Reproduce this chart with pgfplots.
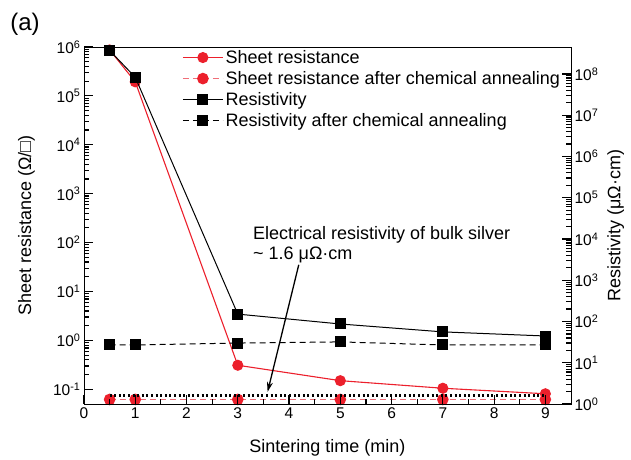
\documentclass[border=0pt]{standalone}
\usepackage{fontspec}
\setmainfont{Liberation Sans}
\setsansfont{Liberation Sans}
\usepackage{pgfplots}
\pgfplotsset{compat=1.18}
\usetikzlibrary{arrows.meta}
\definecolor{myred}{RGB}{236,32,44}
\definecolor{mypink}{RGB}{240,110,120}
\newcommand\lab{\fontsize{18}{21}\selectfont}
\newcommand\tk{\fontsize{15.5}{18}\selectfont}

\pgfplotstableread{
x y
0.5 8.7e5
1 1.94e5
3 0.31
5 0.15
7 0.105
9 0.081
}\sheet
\pgfplotstableread{
x y
0.5 0.062
1 0.062
3 0.062
5 0.062
7 0.062
9 0.062
}\sheetann
\pgfplotstableread{
x y
0.5 3.7e8
1 8.3e7
3 151
5 87
7 56
9 44.5
}\resist
\pgfplotstableread{
x y
0.5 27
1 27
3 30
5 32
7 27
9 27
}\resistann

\begin{document}
\begin{tikzpicture}[x=1pt,y=1pt]
\path[use as bounding box] (0,0) rectangle (631,459);
\node[font=\fontsize{24}{28}\selectfont] at (25,435) {(a)};
\begin{axis}[
  at={(84pt,55pt)}, anchor=south west,
  scale only axis, width=487pt, height=357pt,
  xmin=0, xmax=9.5,
  ymode=log, ymin=0.05, ymax=1e6,
  xtick={0,1,...,9}, minor x tick num=1,
  ytick={0.1,1,10,100,1000,1e4,1e5,1e6},
  yticklabels={10\textsuperscript{-1},10\textsuperscript{0},10\textsuperscript{1},10\textsuperscript{2},10\textsuperscript{3},10\textsuperscript{4},10\textsuperscript{5},10\textsuperscript{6}},
  xtick pos=lower, ytick pos=left,
  tick align=inside,
  major tick length=9pt, minor tick length=5pt,
  tick style={black, line width=1.2pt},
  axis on top,
  /pgf/number format/assume math mode=true,
  tick label style={font=\tk},
  xlabel={Sintering time (min)},
  ylabel={Sheet resistance (Ω/□)},
  xlabel style={font=\lab, at={(axis description cs:0.5,-0.137)}, anchor=base},
  ylabel style={font=\lab, at={(axis description cs:-0.118,0.5)}, anchor=center, rotate=0},
  legend style={at={(axis description cs:0.201,0.997)}, anchor=north west, draw=none, fill=none, inner sep=0pt, font=\lab, row sep=2.5pt},
  legend cell align=left,
  legend image code/.code={\draw[mark repeat=2,mark phase=2,#1] plot coordinates {(0pt,0pt) (20pt,0pt) (40pt,0pt)};},
  clip mode=individual,
]
\addplot[myred, line width=1.1pt, mark=*, mark size=5pt, mark options={solid, fill=myred}] table {\sheet};
\addlegendentry{Sheet resistance}
\addplot[mypink, line width=1.6pt, dash pattern=on 6pt off 4pt, mark=*, mark size=5pt, mark options={solid, fill=myred, draw=myred}] table {\sheetann};
\addlegendentry{Sheet resistance after chemical annealing}
\addlegendimage{black, line width=1pt, mark=square*, mark size=5pt, mark options={solid}}
\addlegendentry{Resistivity}
\addlegendimage{black, line width=1pt, dash pattern=on 6pt off 4pt, mark=square*, mark size=5pt, mark options={solid}}
\addlegendentry{Resistivity after chemical annealing}
\node[font=\lab, anchor=base west] at (axis description cs:0.340,0.462) {Electrical resistivity of bulk silver};
\node[font=\lab, anchor=base west] at (axis description cs:0.340,0.406) {\textasciitilde\ 1.6 μΩ·cm};
\draw[-{Stealth[length=10pt,width=6pt]}, line width=1.3pt] (axis description cs:0.441,0.390) -- (axis description cs:0.377,0.034);
\end{axis}
\begin{axis}[
  at={(84pt,55pt)}, anchor=south west,
  scale only axis, width=487pt, height=357pt,
  xmin=0, xmax=9.5,
  ymode=log, ymin=1, ymax=4.5e8,
  axis x line=none, axis y line*=right,
  ytick={1,10,100,1000,1e4,1e5,1e6,1e7,1e8},
  yticklabels={10\textsuperscript{0},10\textsuperscript{1},10\textsuperscript{2},10\textsuperscript{3},10\textsuperscript{4},10\textsuperscript{5},10\textsuperscript{6},10\textsuperscript{7},10\textsuperscript{8}},
  tick align=inside,
  major tick length=9pt, minor tick length=5pt,
  tick style={black, line width=1.2pt},
  axis on top,
  tick label style={font=\tk},
  ylabel={Resistivity (μΩ·cm)},
  ylabel style={font=\lab, at={(axis description cs:1.092,0.5)}, anchor=center, rotate=0},
  clip mode=individual,
]
\addplot[black, line width=1pt, mark=square*, mark size=5pt, mark options={solid}] table {\resist};
\addplot[black, line width=1pt, dash pattern=on 6pt off 4pt, mark=square*, mark size=5pt, mark options={solid}] table {\resistann};
\addplot[black, line width=2.2pt, dash pattern=on 2pt off 2.6pt] coordinates {(0.5,1.6) (9,1.6)};
\end{axis}
\end{tikzpicture}
\end{document}
